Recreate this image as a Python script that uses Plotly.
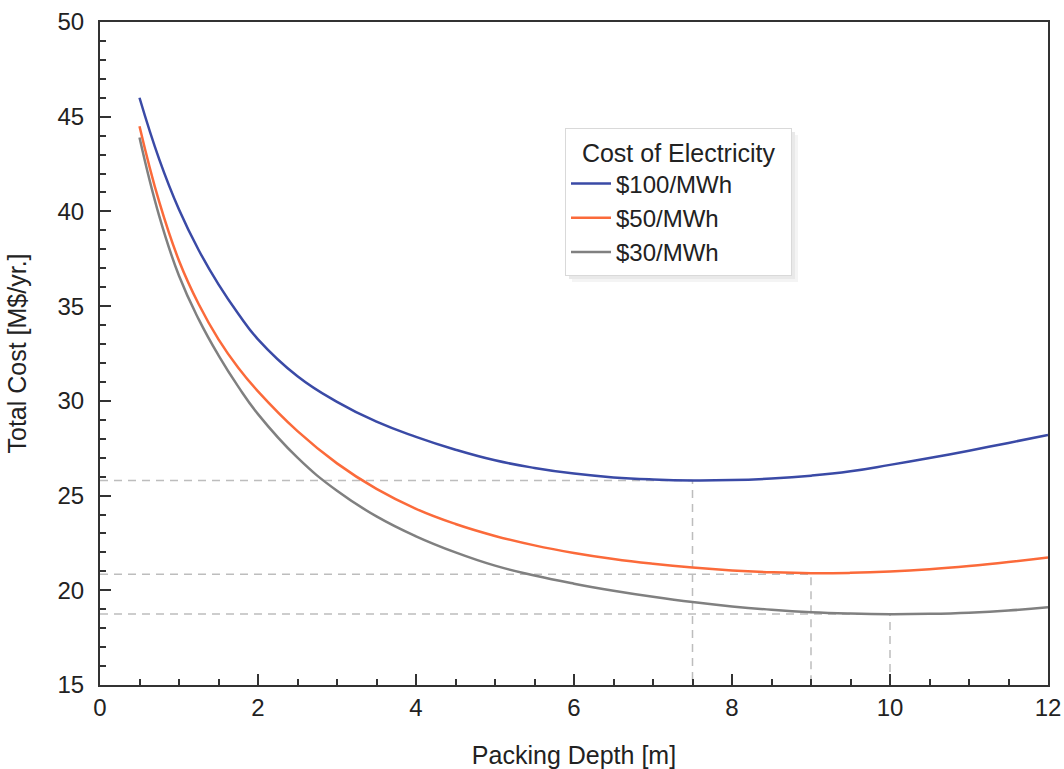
"""Total cost vs packing depth for three electricity prices."""
import plotly.graph_objects as go

FONT = "Liberation Sans, Arial, Helvetica, sans-serif"

depth = [0.5, 0.75, 1.0, 1.25, 1.5, 1.75, 2.0, 2.5, 3.0, 3.5, 4.0, 4.5, 5.0, 5.5,
         6.0, 6.5, 7.0, 7.5, 8.0, 8.5, 9.0, 9.5, 10.0, 10.5, 11.0, 11.5, 12.0]

cost_100 = [46.0, 42.75, 40.1, 37.95, 36.15, 34.6, 33.25, 31.3, 29.95, 28.9, 28.1, 27.42, 26.86, 26.46,
            26.16, 25.96, 25.85, 25.8, 25.82, 25.9, 26.05, 26.28, 26.62, 26.98, 27.37, 27.78, 28.2]
cost_50 = [44.5, 40.5, 37.4, 35.1, 33.25, 31.75, 30.5, 28.4, 26.7, 25.35, 24.3, 23.5, 22.87, 22.37,
           21.97, 21.65, 21.4, 21.2, 21.05, 20.95, 20.9, 20.92, 20.99, 21.11, 21.28, 21.49, 21.73]
cost_30 = [43.9, 39.75, 36.6, 34.3, 32.4, 30.75, 29.3, 27.0, 25.25, 23.9, 22.85, 22.0, 21.3, 20.78,
           20.35, 19.98, 19.66, 19.38, 19.15, 18.97, 18.84, 18.77, 18.74, 18.76, 18.82, 18.93, 19.1]

series_names = ["$100/MWh", "$50/MWh", "$30/MWh"]
series_colors = ["#3a4aa6", "#fb6a3a", "#808080"]

# optimum points (dashed guides)
opt_depth = [7.5, 9.0, 10.0]
opt_cost = [25.8, 20.85, 18.75]

X_RANGE = [0, 12]
Y_RANGE = [15, 50]

fig = go.Figure()

for xo, yo in zip(opt_depth, opt_cost):
    fig.add_trace(go.Scatter(
        x=[X_RANGE[0], xo, xo], y=[yo, yo, Y_RANGE[0]],
        mode="lines", showlegend=False, hoverinfo="skip",
        line=dict(color="#bdbdbd", width=1.5, dash="8px,6px"),
    ))

for name, ys, col in zip(series_names, [cost_100, cost_50, cost_30], series_colors):
    fig.add_trace(go.Scatter(
        x=depth, y=ys, name=name, mode="lines",
        line=dict(color=col, width=2.5, shape="spline", smoothing=1.3),
    ))

axis_common = dict(
    showgrid=False, zeroline=False, automargin=False,
    showline=True, linecolor="#333333", linewidth=2, mirror=True,
    ticks="inside", ticklen=11, tickwidth=1.5, tickcolor="#333333",
    tickfont=dict(size=24, color="#222222", family=FONT),
)

fig.update_xaxes(
    range=X_RANGE, dtick=2, tick0=0,
    minor=dict(dtick=0.5, ticks="inside", ticklen=6, tickwidth=1.5, tickcolor="#333333"),
    title=dict(text="Packing Depth [m]", font=dict(size=25, color="#222222", family=FONT), standoff=28),
    **axis_common,
)
fig.update_yaxes(
    range=Y_RANGE, dtick=5, tick0=0, ticklabelstandoff=9,
    minor=dict(dtick=1, ticks="inside", ticklen=6, tickwidth=1.5, tickcolor="#333333"),
    title=dict(text="Total Cost [M$/yr.]", font=dict(size=25, color="#222222", family=FONT), standoff=24),
    **axis_common,
)

# soft shadow behind the legend box
for dx, col in [(7, "#f4f4f4"), (4, "#e9e9e9")]:
    fig.add_shape(
        type="rect", xref="paper", yref="paper", layer="below",
        x0=(565 + dx - 100) / 948, x1=(791 + dx - 100) / 948,
        y0=(685 - 275 - dx) / 663, y1=(685 - 128 - dx) / 663,
        line=dict(width=0), fillcolor=col,
    )

NB = "\u00a0\u00a0"
fig.update_layout(
    width=1064, height=769,
    margin=dict(l=100, r=16, t=22, b=84),
    plot_bgcolor="white", paper_bgcolor="white",
    font=dict(family=FONT, color="#222222"),
    legend=dict(
        title=dict(text=NB + "Cost of Electricity" + NB, font=dict(size=25)),
        font=dict(size=24),
        x=(565 - 100) / 948, y=(685 - 128) / 663, xanchor="left", yanchor="top",
        bgcolor="white", bordercolor="#d9d9d9", borderwidth=1,
        itemwidth=40, tracegroupgap=0,
    ),
)

fig.write_html(
    "out.html",
    config={"displayModeBar": False},
    post_script="document.body.style.margin='0';",
)
